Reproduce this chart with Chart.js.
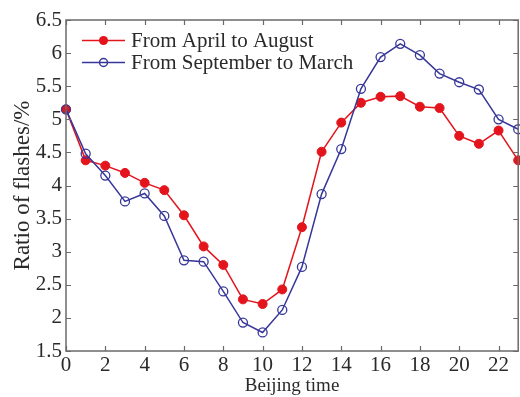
<!DOCTYPE html>
<html>
<head>
<meta charset="utf-8">
<script src="https://cdn.jsdelivr.net/npm/chart.js@4/dist/chart.umd.min.js"></script>
<style>
  html, body { margin: 0; padding: 0; background: #fff; overflow: hidden; width: 520px; height: 397px; }
  canvas { display: block; }
</style>
</head>
<body>
<canvas id="c" width="524" height="397"></canvas>
<script>
const hours = [0,1,2,3,4,5,6,7,8,9,10,11,12,13,14,15,16,17,18,19,20,21,22,23];
const aprAug = [5.15,4.38,4.30,4.19,4.04,3.93,3.55,3.08,2.80,2.28,2.21,2.43,3.37,4.51,4.95,5.25,5.34,5.35,5.19,5.17,4.75,4.63,4.83,4.38];
const sepMar = [5.15,4.48,4.15,3.76,3.88,3.54,2.87,2.85,2.40,1.93,1.78,2.12,2.77,3.87,4.55,5.46,5.94,6.14,5.97,5.69,5.56,5.45,5.00,4.85];
const seriesNames = ['From April to August', 'From September to March'];
const xTicks = [0,2,4,6,8,10,12,14,16,18,20,22];
const yTicks = [1.5,2,2.5,3,3.5,4,4.5,5,5.5,6,6.5];
const xTitle = 'Beijing time';
const yTitle = 'Ratio of flashes/%';

const RED = '#e3141c';
const BLUE = '#37379a';
const AXIS = '#6a6a6a';
const TEXT = '#2a2a2a';
const FONT = '"Liberation Serif", "Times New Roman", serif';

const framePlugin = {
  id: 'frame',
  afterDraw(chart) {
    const ctx = chart.ctx;
    const a = chart.chartArea;
    const xs = chart.scales.x, ys = chart.scales.y;
    ctx.save();
    ctx.strokeStyle = AXIS;
    ctx.lineWidth = 1.5;
    ctx.strokeRect(a.left, a.top, a.right - a.left, a.bottom - a.top);
    ctx.lineWidth = 1.2;
    const L = 5;
    ctx.beginPath();
    xs.ticks.forEach(t => {
      const px = Math.round(xs.getPixelForValue(t.value)) + 0.5;
      ctx.moveTo(px, a.bottom); ctx.lineTo(px, a.bottom - L);
      ctx.moveTo(px, a.top); ctx.lineTo(px, a.top + L);
    });
    ys.ticks.forEach(t => {
      const py = Math.round(ys.getPixelForValue(t.value)) + 0.5;
      ctx.moveTo(a.left, py); ctx.lineTo(a.left + L, py);
      ctx.moveTo(a.right, py); ctx.lineTo(a.right - L, py);
    });
    ctx.stroke();

    // legend
    const ds = chart.data.datasets;
    const x0 = 82, x1 = 125, xm = 103.5;
    const rows = [40.5, 62.5];
    ds.forEach((d, i) => {
      const y = rows[i];
      ctx.strokeStyle = d.borderColor;
      ctx.lineWidth = 1.5;
      ctx.beginPath(); ctx.moveTo(x0, y); ctx.lineTo(x1, y); ctx.stroke();
      ctx.beginPath(); ctx.arc(xm, y, i === 0 ? 4.5 : 4, 0, Math.PI * 2);
      if (i === 0) { ctx.fillStyle = d.borderColor; ctx.fill(); }
      else { ctx.stroke(); }
      ctx.fillStyle = TEXT;
      ctx.font = '21px ' + FONT;
      ctx.textAlign = 'left';
      ctx.textBaseline = 'middle';
      ctx.fillText(d.label, 131, y + 1);
    });
    ctx.restore();
  }
};

new Chart(document.getElementById('c'), {
  type: 'line',
  data: {
    datasets: [
      {
        label: seriesNames[0],
        data: hours.map((h, i) => ({x: h, y: aprAug[i]})),
        borderColor: RED, backgroundColor: RED,
        pointBackgroundColor: RED, pointBorderColor: RED,
        borderWidth: 1.5, pointRadius: 4.5, pointBorderWidth: 1,
        tension: 0, clip: false, order: 1
      },
      {
        label: seriesNames[1],
        data: hours.map((h, i) => ({x: h, y: sepMar[i]})),
        borderColor: BLUE, backgroundColor: 'rgba(0,0,0,0)',
        pointBackgroundColor: 'rgba(0,0,0,0)', pointBorderColor: BLUE,
        borderWidth: 1.5, pointRadius: 4.5, pointBorderWidth: 1.3,
        tension: 0, clip: false, order: 0
      }
    ]
  },
  options: {
    responsive: false,
    animation: false,
    devicePixelRatio: 1,
    layout: { padding: { top: 20, right: 1, left: 0, bottom: 0 } },
    plugins: { legend: { display: false }, tooltip: { enabled: false } },
    scales: {
      x: {
        type: 'linear', min: 0, max: 23,
        grid: { display: false, drawTicks: false },
        border: { display: false },
        afterBuildTicks: s => { s.ticks = xTicks.map(v => ({value: v})); },
        afterFit: s => { s.height = 46; s.paddingLeft = 0; s.paddingRight = 0; },
        ticks: { color: TEXT, font: { family: FONT, size: 21 }, padding: 2, maxRotation: 0, autoSkip: false },
        title: { display: true, text: xTitle, color: TEXT, font: { family: FONT, size: 19 }, padding: { top: 0, bottom: 0 } }
      },
      y: {
        type: 'linear', min: 1.5, max: 6.5,
        grid: { display: false, drawTicks: false },
        border: { display: false },
        afterBuildTicks: s => { s.ticks = yTicks.map(v => ({value: v})); },
        afterFit: s => { s.width = 66; s.paddingTop = 0; s.paddingBottom = 0; },
        ticks: { color: TEXT, font: { family: FONT, size: 21 }, padding: 4, callback: v => String(v) },
        title: { display: true, text: yTitle, color: TEXT, font: { family: FONT, size: 23 }, padding: { top: 9, bottom: 0 } }
      }
    }
  },
  plugins: [framePlugin]
});
</script>
</body>
</html>
